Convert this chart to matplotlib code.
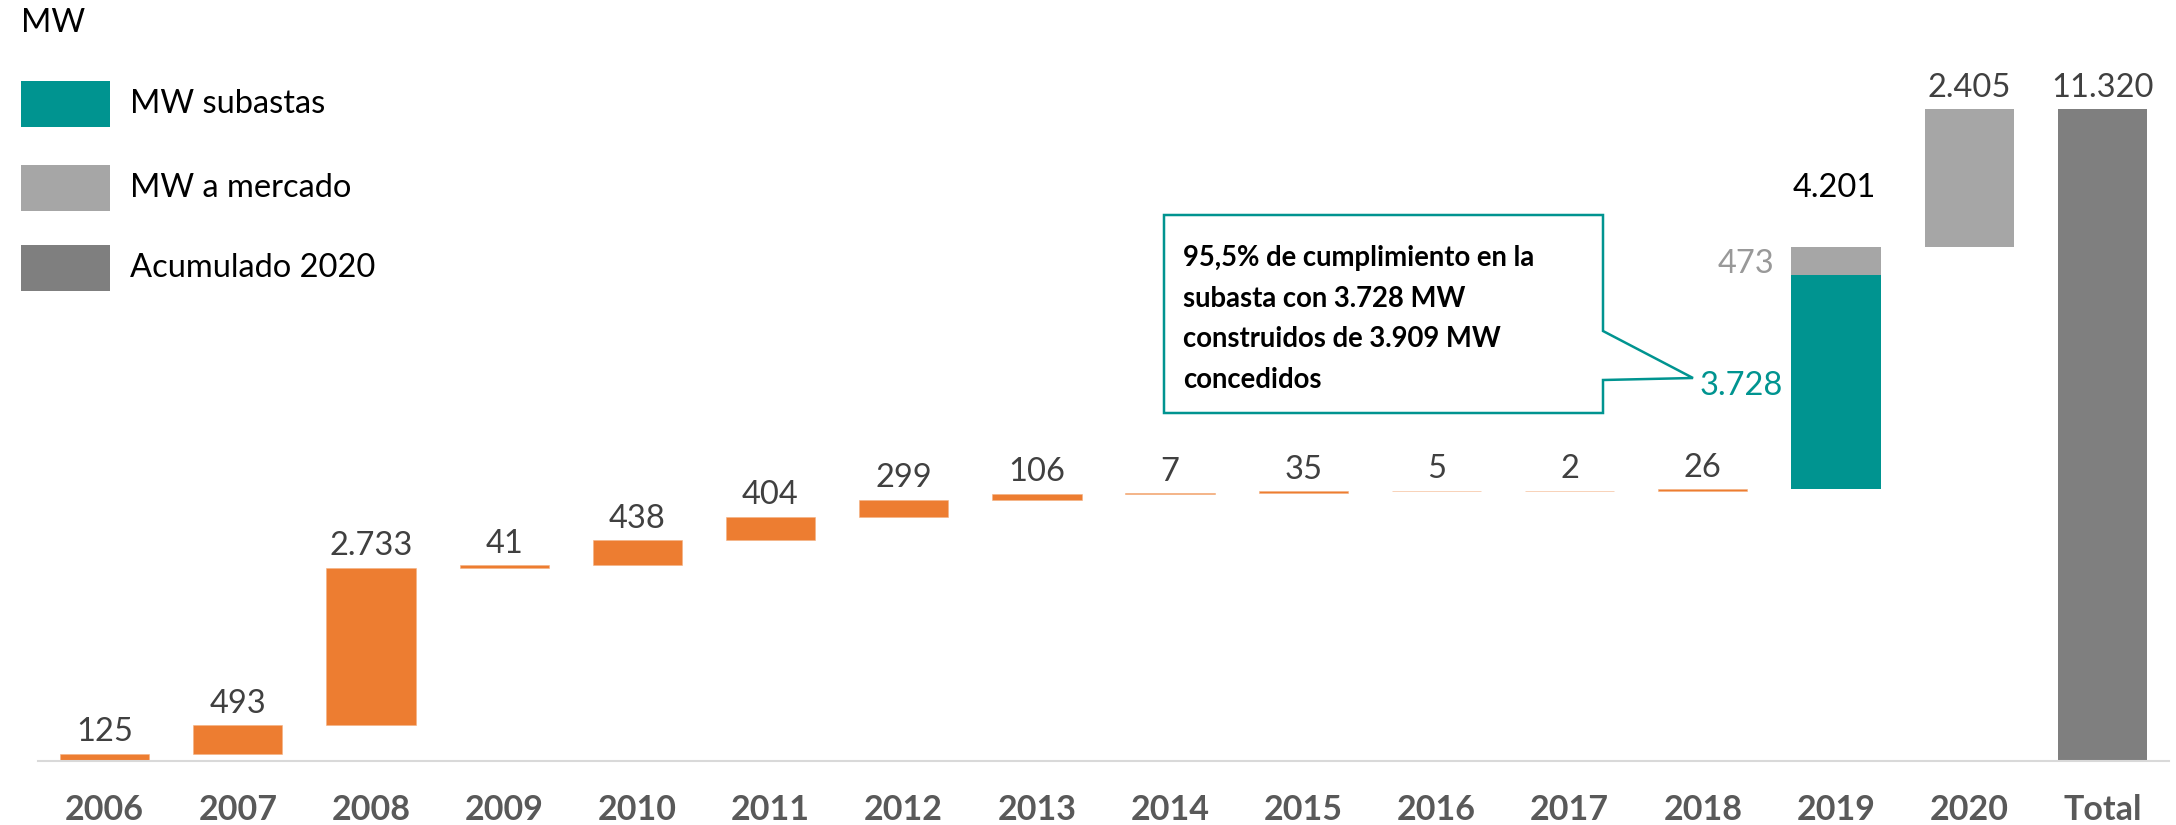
import matplotlib.pyplot as plt
import numpy as np
from matplotlib.patches import Polygon, Rectangle

# data (MW)
years = ["2006", "2007", "2008", "2009", "2010", "2011", "2012", "2013",
         "2014", "2015", "2016", "2017", "2018", "2019", "2020", "Total"]
annual_mw = [125, 493, 2733, 41, 438, 404, 299, 106, 7, 35, 5, 2, 26]  # 2006-2018
subasta_mw = 3728        # 2019
mercado_mw = [473, 2405]  # 2019, 2020
total_mw = 11320
total_2019 = 4201

legend_labels = ["MW subastas", "MW a mercado", "Acumulado 2020"]
callout_text = ("95,5% de cumplimiento en la\nsubasta con 3.728 MW\n"
                "construidos de 3.909 MW\nconcedidos")

ORANGE = "#ED7D31"
TEAL = "#009490"
LGRAY = "#A6A6A6"
DGRAY = "#7F7F7F"
TXT = "#404040"

W, H = 2176, 825
plt.rcParams["font.family"] = ["Lato", "DejaVu Sans"]
VAL_FS = 23.5


def fx(px):
    return px / W


def fy(py):
    return 1 - py / H


def fmt(v):
    return f"{v:,}".replace(",", ".")


fig = plt.figure(figsize=(W / 100, H / 100), dpi=100)
ax = fig.add_axes([fx(38), fy(760.7), fx(2131), 760.7 / H])
ax.set_xlim(-0.5, len(years) - 0.5)
ax.set_ylim(0, 760.7 / 0.05757)

x = np.arange(len(years))
bw = 0.67
n = len(annual_mw)

# waterfall: annual steps 2006-2018
bottoms = np.concatenate([[0], np.cumsum(annual_mw)[:-1]])
ax.bar(x[:n], annual_mw, bw, bottom=bottoms, color=ORANGE, edgecolor="#F4B183", linewidth=0.4)
base_2019 = sum(annual_mw)
ax.bar(x[n], subasta_mw, bw, bottom=base_2019, color=TEAL, linewidth=0)
ax.bar(x[n], mercado_mw[0], bw, bottom=base_2019 + subasta_mw, color=LGRAY, linewidth=0)
base_2020 = base_2019 + subasta_mw + mercado_mw[0]
ax.bar(x[n + 1], mercado_mw[1], bw, bottom=base_2020, color=LGRAY, linewidth=0)
ax.bar(x[n + 2], total_mw, bw, color=DGRAY, linewidth=0)

# value labels
for i, v in enumerate(annual_mw):
    ax.annotate(fmt(v), (x[i], bottoms[i] + v), xytext=(0, 9), textcoords="offset points",
                ha="center", va="baseline", fontsize=VAL_FS, color=TXT)
ax.annotate(fmt(mercado_mw[1]), (x[n + 1], base_2020 + mercado_mw[1]), xytext=(0, 9),
            textcoords="offset points", ha="center", va="baseline", fontsize=VAL_FS, color=TXT)
ax.annotate(fmt(total_mw), (x[n + 2], total_mw), xytext=(0, 9),
            textcoords="offset points", ha="center", va="baseline", fontsize=VAL_FS, color=TXT)
ax.annotate(fmt(total_2019), (x[n], base_2019 + subasta_mw + mercado_mw[0]), xytext=(-1, 36),
            textcoords="offset points", ha="center", va="baseline", fontsize=VAL_FS, color="black")
ax.annotate(fmt(mercado_mw[0]), (x[n] - bw / 2, base_2019 + subasta_mw), xytext=(-12, 1),
            textcoords="offset points", ha="right", va="baseline", fontsize=VAL_FS, color="#999999")
ax.annotate(fmt(subasta_mw), (x[n] - bw / 2, base_2019 + 0.44 * subasta_mw), xytext=(-6, 0),
            textcoords="offset points", ha="right", va="baseline", fontsize=VAL_FS, color=TEAL)

# axes styling
for s in ["top", "right", "left"]:
    ax.spines[s].set_visible(False)
ax.spines["bottom"].set_color("#D9D9D9")
ax.spines["bottom"].set_linewidth(1.5)
ax.set_yticks([])
ax.set_xticks(x, years)
ax.tick_params(axis="x", length=0, pad=24, labelsize=24.5, labelcolor="#595959")
for t in ax.get_xticklabels():
    t.set_fontweight("bold")

# unit label and legend
fig.text(fx(21), fy(32), "MW", fontsize=23.5, color="black", va="baseline")
legend_colors = [TEAL, LGRAY, DGRAY]
legend_tops = [81, 165, 245]
for lab, col, top in zip(legend_labels, legend_colors, legend_tops):
    fig.patches.append(Rectangle((fx(21), fy(top + 46)), fx(89), 46 / H,
                                 transform=fig.transFigure, color=col, linewidth=0))
    fig.text(fx(130), fy(top + 23), lab, fontsize=23.5, color="black", va="center")

# callout box
pts = [(1164, 215), (1603, 215), (1603, 331), (1693, 378), (1603, 380), (1603, 413), (1164, 413)]
fig.patches.append(Polygon([(fx(a), fy(b)) for a, b in pts], closed=True,
                           transform=fig.transFigure, facecolor="white",
                           edgecolor=TEAL, linewidth=1.8))
fig.text(fx(1183), fy(245), callout_text, fontsize=19.8, fontweight="bold", color="black",
         va="top", ha="left", linespacing=1.7)

fig.savefig("out.png", dpi=100)
